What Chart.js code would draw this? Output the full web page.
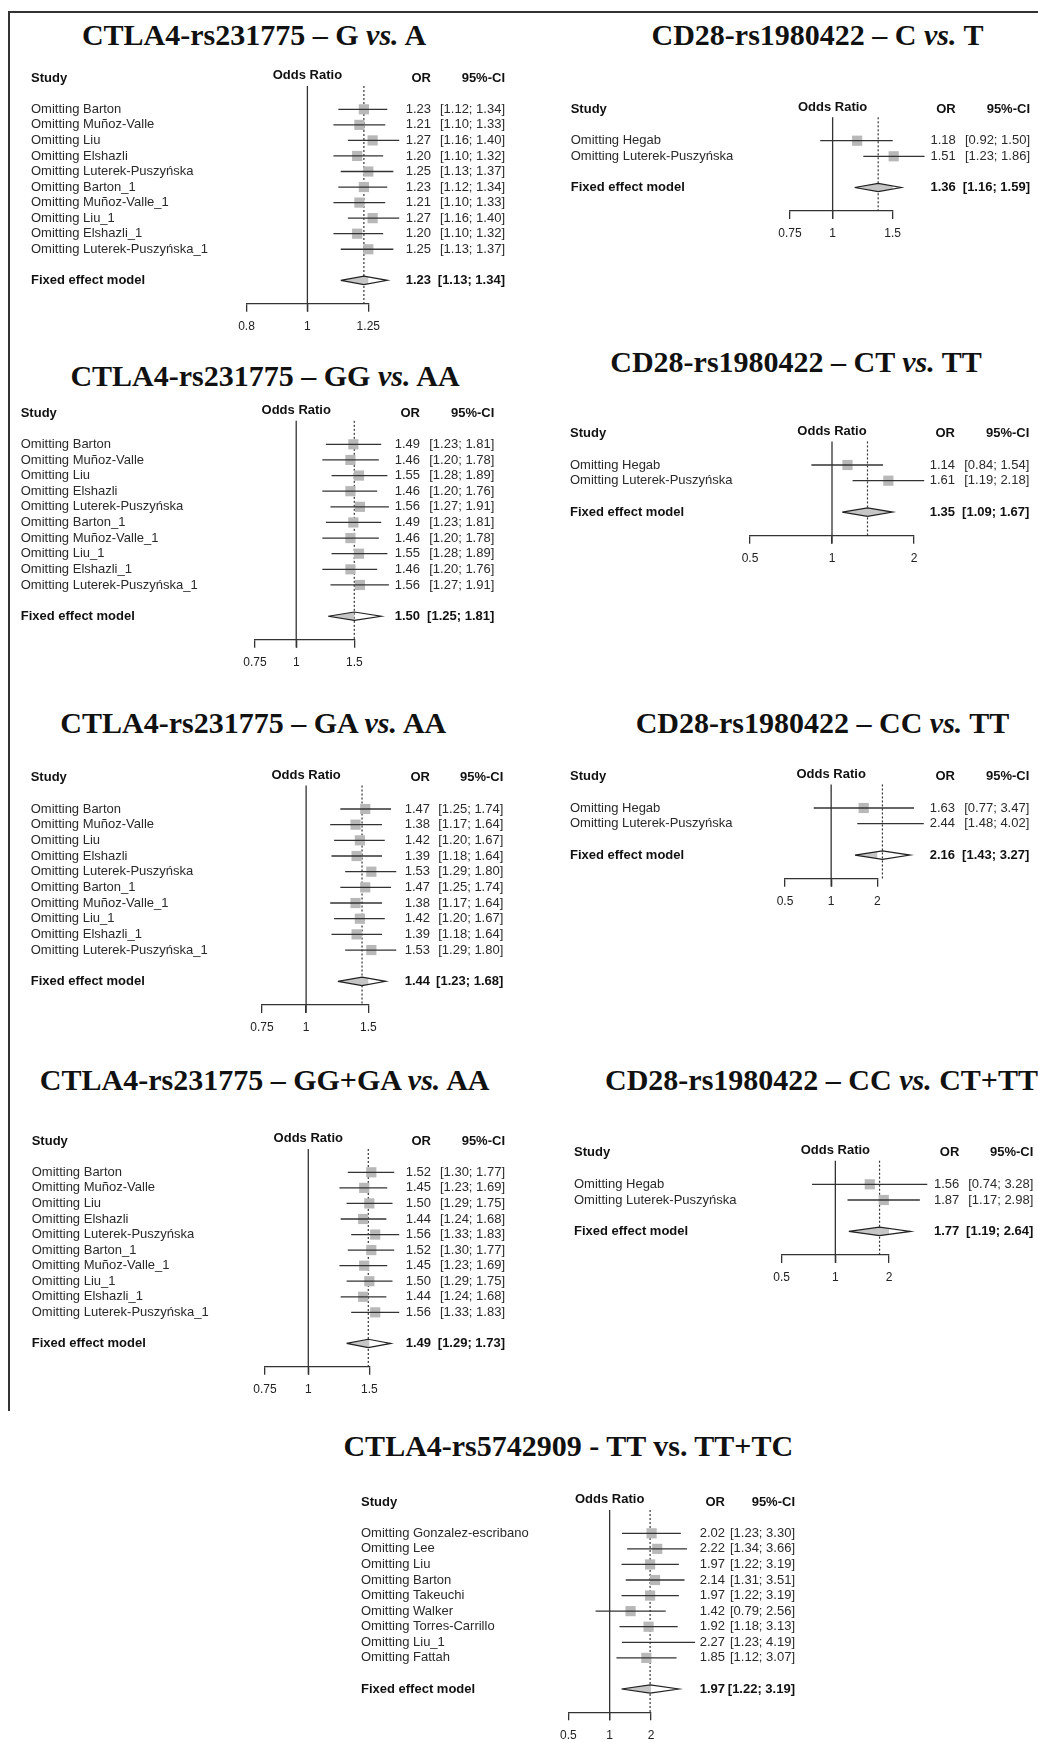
<!DOCTYPE html>
<html>
<head>
<meta charset="utf-8">
<script src="https://cdn.jsdelivr.net/npm/chart.js@4.4.1/dist/chart.umd.min.js"></script>
<style>
html, body { margin: 0; padding: 0; background: #fff; }
body { width: 1038px; height: 1743px; position: relative; overflow: hidden; }
.title { position: absolute; font: bold 30px "Liberation Serif", "Times New Roman", serif; line-height: 30px; color: #111; white-space: nowrap; }
.title i { font-style: italic; }
canvas { position: absolute; }
.frame { position: absolute; background: #333; }
</style>
</head>
<body>
<div class="frame" style="left:9px;top:11px;width:1029px;height:2px"></div>
<div class="frame" style="left:8px;top:11px;width:2px;height:1400px"></div>
<script>
// study labels
const studiesRs231775 = ['Omitting Barton', 'Omitting Muñoz-Valle', 'Omitting Liu', 'Omitting Elshazli', 'Omitting Luterek-Puszyńska',
    'Omitting Barton_1', 'Omitting Muñoz-Valle_1', 'Omitting Liu_1', 'Omitting Elshazli_1', 'Omitting Luterek-Puszyńska_1'];
const studiesRs1980422 = ['Omitting Hegab', 'Omitting Luterek-Puszyńska'];
const studiesRs5742909 = ['Omitting Gonzalez-escribano', 'Omitting Lee', 'Omitting Liu', 'Omitting Barton', 'Omitting Takeuchi',
    'Omitting Walker', 'Omitting Torres-Carrillo', 'Omitting Liu_1', 'Omitting Fattah'];

// axis ticks
const ticksNarrow = [0.8, 1, 1.25];
const ticksMid = [0.75, 1, 1.5];
const ticksWide = [0.5, 1, 2];

// CTLA4-rs231775 G vs A
const gVsA_or = [1.23, 1.21, 1.27, 1.20, 1.25, 1.23, 1.21, 1.27, 1.20, 1.25];
const gVsA_lo = [1.12, 1.10, 1.16, 1.10, 1.13, 1.12, 1.10, 1.16, 1.10, 1.13];
const gVsA_hi = [1.34, 1.33, 1.40, 1.32, 1.37, 1.34, 1.33, 1.40, 1.32, 1.37];
const gVsA_fixed = [1.23, 1.13, 1.34];

// CTLA4-rs231775 GG vs AA
const ggVsAa_or = [1.49, 1.46, 1.55, 1.46, 1.56, 1.49, 1.46, 1.55, 1.46, 1.56];
const ggVsAa_lo = [1.23, 1.20, 1.28, 1.20, 1.27, 1.23, 1.20, 1.28, 1.20, 1.27];
const ggVsAa_hi = [1.81, 1.78, 1.89, 1.76, 1.91, 1.81, 1.78, 1.89, 1.76, 1.91];
const ggVsAa_fixed = [1.50, 1.25, 1.81];

// CTLA4-rs231775 GA vs AA
const gaVsAa_or = [1.47, 1.38, 1.42, 1.39, 1.53, 1.47, 1.38, 1.42, 1.39, 1.53];
const gaVsAa_lo = [1.25, 1.17, 1.20, 1.18, 1.29, 1.25, 1.17, 1.20, 1.18, 1.29];
const gaVsAa_hi = [1.74, 1.64, 1.67, 1.64, 1.80, 1.74, 1.64, 1.67, 1.64, 1.80];
const gaVsAa_fixed = [1.44, 1.23, 1.68];

// CTLA4-rs231775 GG+GA vs AA
const domVsAa_or = [1.52, 1.45, 1.50, 1.44, 1.56, 1.52, 1.45, 1.50, 1.44, 1.56];
const domVsAa_lo = [1.30, 1.23, 1.29, 1.24, 1.33, 1.30, 1.23, 1.29, 1.24, 1.33];
const domVsAa_hi = [1.77, 1.69, 1.75, 1.68, 1.83, 1.77, 1.69, 1.75, 1.68, 1.83];
const domVsAa_fixed = [1.49, 1.29, 1.73];

// CD28-rs1980422
const cVsT_or = [1.18, 1.51], cVsT_lo = [0.92, 1.23], cVsT_hi = [1.50, 1.86];
const cVsT_fixed = [1.36, 1.16, 1.59];
const ctVsTt_or = [1.14, 1.61], ctVsTt_lo = [0.84, 1.19], ctVsTt_hi = [1.54, 2.18];
const ctVsTt_fixed = [1.35, 1.09, 1.67];
const ccVsTt_or = [1.63, 2.44], ccVsTt_lo = [0.77, 1.48], ccVsTt_hi = [3.47, 4.02];
const ccVsTt_fixed = [2.16, 1.43, 3.27];
const ccVsRest_or = [1.56, 1.87], ccVsRest_lo = [0.74, 1.17], ccVsRest_hi = [3.28, 2.98];
const ccVsRest_fixed = [1.77, 1.19, 2.64];

// CTLA4-rs5742909 TT vs TT+TC
const ttVsTc_or = [2.02, 2.22, 1.97, 2.14, 1.97, 1.42, 1.92, 2.27, 1.85];
const ttVsTc_lo = [1.23, 1.34, 1.22, 1.31, 1.22, 0.79, 1.18, 1.23, 1.12];
const ttVsTc_hi = [3.30, 3.66, 3.19, 3.51, 3.19, 2.56, 3.13, 4.19, 3.07];
const ttVsTc_fixed = [1.97, 1.22, 3.19];

const panels = [
    { title: 'CTLA4-rs231775 – G <i>vs.</i> A', tx: 254, ty: 45, studies: studiesRs231775, or: gVsA_or, lo: gVsA_lo, hi: gVsA_hi, fixed: gVsA_fixed, ticks: ticksNarrow,
      left: 10, width: 510, row1: 109.3, step: 15.55, x0: 246.5, x1: 368.3, studyX: 31, orX: 431, ciX: 505 },
    { title: 'CD28-rs1980422 – C <i>vs.</i> T', tx: 817.5, ty: 45, studies: studiesRs1980422, or: cVsT_or, lo: cVsT_lo, hi: cVsT_hi, fixed: cVsT_fixed, ticks: ticksMid,
      left: 520, width: 518, row1: 140.7, step: 15.6, x0: 790, x1: 892.7, studyX: 570.7, orX: 955.7, ciX: 1030 },
    { title: 'CTLA4-rs231775 – GG <i>vs.</i> AA', tx: 265, ty: 386, studies: studiesRs231775, or: ggVsAa_or, lo: ggVsAa_lo, hi: ggVsAa_hi, fixed: ggVsAa_fixed, ticks: ticksMid,
      left: 10, width: 510, row1: 444.3, step: 15.63, x0: 255, x1: 354.3, studyX: 20.7, orX: 420, ciX: 494.3 },
    { title: 'CD28-rs1980422 – CT <i>vs.</i> TT', tx: 796, ty: 371.7, studies: studiesRs1980422, or: ctVsTt_or, lo: ctVsTt_lo, hi: ctVsTt_hi, fixed: ctVsTt_fixed, ticks: ticksWide,
      left: 520, width: 518, row1: 465, step: 15.7, x0: 750, x1: 914, studyX: 570, orX: 955, ciX: 1029.3 },
    { title: 'CTLA4-rs231775 – GA <i>vs.</i> AA', tx: 253.3, ty: 733.3, studies: studiesRs231775, or: gaVsAa_or, lo: gaVsAa_lo, hi: gaVsAa_hi, fixed: gaVsAa_fixed, ticks: ticksMid,
      left: 10, width: 510, row1: 809, step: 15.67, x0: 262, x1: 368.3, studyX: 30.7, orX: 430, ciX: 503.3 },
    { title: 'CD28-rs1980422 – CC <i>vs.</i> TT', tx: 822.5, ty: 733.3, studies: studiesRs1980422, or: ccVsTt_or, lo: ccVsTt_lo, hi: ccVsTt_hi, fixed: ccVsTt_fixed, ticks: ticksWide,
      left: 520, width: 518, row1: 808, step: 15.7, x0: 785, x1: 877.3, studyX: 570, orX: 955, ciX: 1029.3 },
    { title: 'CTLA4-rs231775 – GG+GA <i>vs.</i> AA', tx: 264.7, ty: 1090, studies: studiesRs231775, or: domVsAa_or, lo: domVsAa_lo, hi: domVsAa_hi, fixed: domVsAa_fixed, ticks: ticksMid,
      left: 10, width: 510, row1: 1172.3, step: 15.56, x0: 265, x1: 369.3, studyX: 31.7, orX: 431, ciX: 505 },
    { title: 'CD28-rs1980422 – CC <i>vs.</i> CT+TT', tleft: 605, ty: 1090, studies: studiesRs1980422, or: ccVsRest_or, lo: ccVsRest_lo, hi: ccVsRest_hi, fixed: ccVsRest_fixed, ticks: ticksWide,
      left: 520, width: 518, row1: 1184.3, step: 15.7, x0: 781.7, x1: 889, studyX: 574, orX: 959.3, ciX: 1033.3 },
    { title: 'CTLA4-rs5742909 - TT vs. TT+TC', tx: 568.3, ty: 1455.7, studies: studiesRs5742909, or: ttVsTc_or, lo: ttVsTc_lo, hi: ttVsTc_hi, fixed: ttVsTc_fixed, ticks: ticksWide,
      left: 330, width: 520, row1: 1533.3, step: 15.57, x0: 568.3, x1: 651, studyX: 361, orX: 725, ciX: 795 }
];

const FONT = '"Liberation Sans", Arial, sans-serif';
const AXIS_H = 40;

function fmtCI(lo, hi) {
    return `[${lo.toFixed(2)}; ${hi.toFixed(2)}]`;
}

function drawPanel(p) {
    // title
    const t = document.createElement('div');
    t.className = 'title';
    t.innerHTML = p.title;
    t.style.top = (p.ty - 25) + 'px';
    if (p.tleft !== undefined) {
        t.style.left = p.tleft + 'px';
    } else {
        t.style.left = p.tx + 'px';
        t.style.transform = 'translateX(-50%)';
    }
    document.body.appendChild(t);

    const n = p.studies.length;
    const fixedRow = n + 2;
    const rowY = r => p.row1 + (r - 1) * p.step;
    const top = Math.round(rowY(-2.3));
    const chartTop = rowY(-0.5);
    const chartBottom = rowY(n + 3.5);
    const height = Math.ceil(chartBottom + AXIS_H + 2 - top);

    const canvas = document.createElement('canvas');
    canvas.width = p.width;
    canvas.height = height;
    canvas.style.left = p.left + 'px';
    canvas.style.top = top + 'px';
    document.body.appendChild(canvas);

    const [est, fLo, fHi] = p.fixed;
    const datasets = [];

    // confidence interval lines
    p.studies.forEach((_, i) => {
        datasets.push({
            data: [{ x: p.lo[i], y: i + 1 }, { x: p.hi[i], y: i + 1 }],
            showLine: true, borderColor: '#333', borderWidth: 1.3, pointRadius: 0, clip: false, order: 1
        });
    });
    // study squares
    datasets.push({
        data: p.or.map((v, i) => ({ x: v, y: i + 1 })),
        pointStyle: 'rect', pointRadius: 7.2, backgroundColor: '#b8b8b8', borderWidth: 0, clip: false, order: 2
    });
    // pooled diamond
    datasets.push({
        data: [{ x: fLo, y: fixedRow }, { x: est, y: fixedRow - 0.27 }, { x: fHi, y: fixedRow }, { x: est, y: fixedRow + 0.27 }, { x: fLo, y: fixedRow }],
        showLine: true, fill: 'shape', backgroundColor: '#c6c6c6', borderColor: '#222', borderWidth: 1.2,
        pointRadius: 0, tension: 0, clip: false, order: 0
    });
    // dotted line at pooled estimate
    datasets.push({
        data: [{ x: est, y: -0.5 }, { x: est, y: n + 3.5 }],
        showLine: true, borderDash: [2, 2], borderColor: '#333', borderWidth: 1.2, pointRadius: 0, clip: false, order: 3
    });
    // line of no effect
    datasets.push({
        data: [{ x: 1, y: -0.5 }, { x: 1, y: n + 4 }],
        showLine: true, borderColor: '#333', borderWidth: 1.3, pointRadius: 0, clip: false, order: 3
    });

    const textPlugin = {
        id: 'forestText',
        afterDraw(chart) {
            const ctx = chart.ctx;
            const xs = chart.scales.x, ys = chart.scales.y;
            const ox = p.left;
            ctx.save();
            ctx.fillStyle = '#111';
            ctx.textBaseline = 'middle';
            ctx.font = 'bold 13px ' + FONT;
            ctx.textAlign = 'left';
            ctx.fillText('Study', p.studyX - ox, ys.getPixelForValue(-1));
            ctx.fillText('Fixed effect model', p.studyX - ox, ys.getPixelForValue(fixedRow));
            ctx.textAlign = 'center';
            ctx.fillText('Odds Ratio', xs.getPixelForValue(1), ys.getPixelForValue(-1.15));
            ctx.textAlign = 'right';
            ctx.fillText('OR', p.orX - ox, ys.getPixelForValue(-1));
            ctx.fillText('95%-CI', p.ciX - ox, ys.getPixelForValue(-1));
            ctx.fillText(est.toFixed(2), p.orX - ox, ys.getPixelForValue(fixedRow));
            ctx.fillText(fmtCI(fLo, fHi), p.ciX - ox, ys.getPixelForValue(fixedRow));

            ctx.fillStyle = '#2a2a2a';
            ctx.font = '13px ' + FONT;
            p.studies.forEach((s, i) => {
                const y = ys.getPixelForValue(i + 1);
                ctx.textAlign = 'left';
                ctx.fillText(s, p.studyX - ox, y);
                ctx.textAlign = 'right';
                ctx.fillText(p.or[i].toFixed(2), p.orX - ox, y);
                ctx.fillText(fmtCI(p.lo[i], p.hi[i]), p.ciX - ox, y);
            });
            ctx.restore();
        }
    };

    new Chart(canvas.getContext('2d'), {
        type: 'scatter',
        data: { datasets: datasets },
        options: {
            responsive: false,
            animation: false,
            devicePixelRatio: 1,
            events: [],
            layout: {
                padding: {
                    left: p.x0 - p.left,
                    right: p.left + p.width - p.x1,
                    top: chartTop - top,
                    bottom: top + height - chartBottom - AXIS_H
                }
            },
            plugins: { legend: { display: false }, tooltip: { enabled: false } },
            scales: {
                x: {
                    type: 'logarithmic',
                    min: p.ticks[0],
                    max: p.ticks[p.ticks.length - 1],
                    afterBuildTicks: axis => { axis.ticks = p.ticks.map(v => ({ value: v })); },
                    afterFit: axis => { axis.height = AXIS_H; },
                    ticks: {
                        autoSkip: false, maxRotation: 0, padding: 8,
                        color: '#222', font: { family: FONT, size: 12 },
                        callback: v => String(v)
                    },
                    grid: { drawOnChartArea: false, drawTicks: true, tickLength: 8, color: '#333', lineWidth: 1.3 },
                    border: { display: true, color: '#333', width: 1.3 }
                },
                y: { type: 'linear', reverse: true, min: -0.5, max: n + 3.5, display: false }
            }
        },
        plugins: [textPlugin]
    });
}

panels.forEach(drawPanel);
</script>
</body>
</html>
